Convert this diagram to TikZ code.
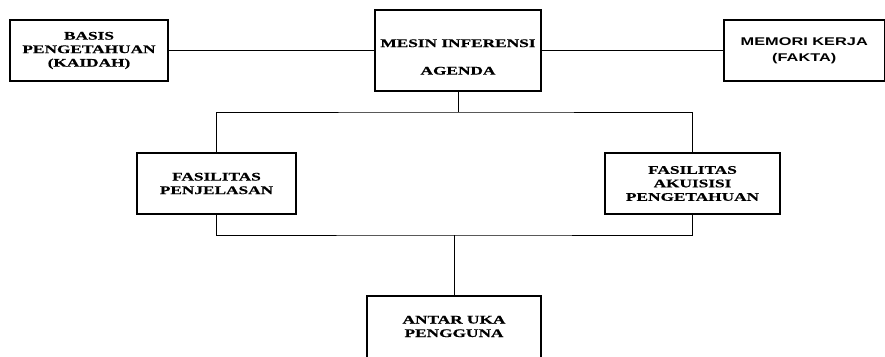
\documentclass[tikz,border=0pt]{standalone}
\usepackage{fontspec}
\newfontfamily\tnrb[FakeStretch=1.49,FakeBold=0.5]{Liberation Serif Bold}
\newfontfamily\arlb[FakeStretch=1.46]{Liberation Sans Bold}
\begin{document}
\begin{tikzpicture}[x=1pt,y=-1pt,
  box/.style={draw=black, line width=1.1pt, inner sep=0pt, align=center,
    font=\tnrb\fontsize{11.6}{13.5}\selectfont},
  sbox/.style={box, font=\arlb\fontsize{11.2}{16}\selectfont},
  conn/.style={draw=black, line width=0.9pt}]
\useasboundingbox (0,0) rectangle (885,356);
\node[box, minimum width=158, minimum height=61] (basis) at (89,50.5) {BASIS\\PENGETAHUAN\\(KAIDAH)};
\node[box, minimum width=166, minimum height=81] (mesin) at (458,50.5) {};
\node[box, draw=none] (mesintxt) at (458,57) {MESIN INFERENSI\\[14pt]AGENDA};
\node[sbox, minimum width=160.5, minimum height=61] (memori) at (804.25,50.5) {MEMORI KERJA\\(FAKTA)};
\node[box, minimum width=159, minimum height=61] (fas1) at (216.5,183.5) {FASILITAS\\PENJELASAN};
\node[box, minimum width=175, minimum height=61] (fas2) at (692.5,183.5) {FASILITAS\\AKUISISI\\PENGETAHUAN};
\node[box, minimum width=174, minimum height=74] (antar) at (454,333) {};
\node[box, draw=none] (antartxt) at (454,326.5) {ANTAR UKA\\PENGGUNA};
\coordinate (j1) at (458,112);
\coordinate (j2) at (454,235);
\draw[conn] (basis.east) -- (mesin.west |- basis.east);
\draw[conn] (mesin.east |- memori.west) -- (memori.west);
\draw[conn] (mesin.south) -- (j1);
\draw[conn] (fas1.north) |- (j1) -| (fas2.north);
\draw[conn] (fas1.south) |- (j2) -| (fas2.south);
\draw[conn] (j2) -- (antar.north);
\end{tikzpicture}
\end{document}
